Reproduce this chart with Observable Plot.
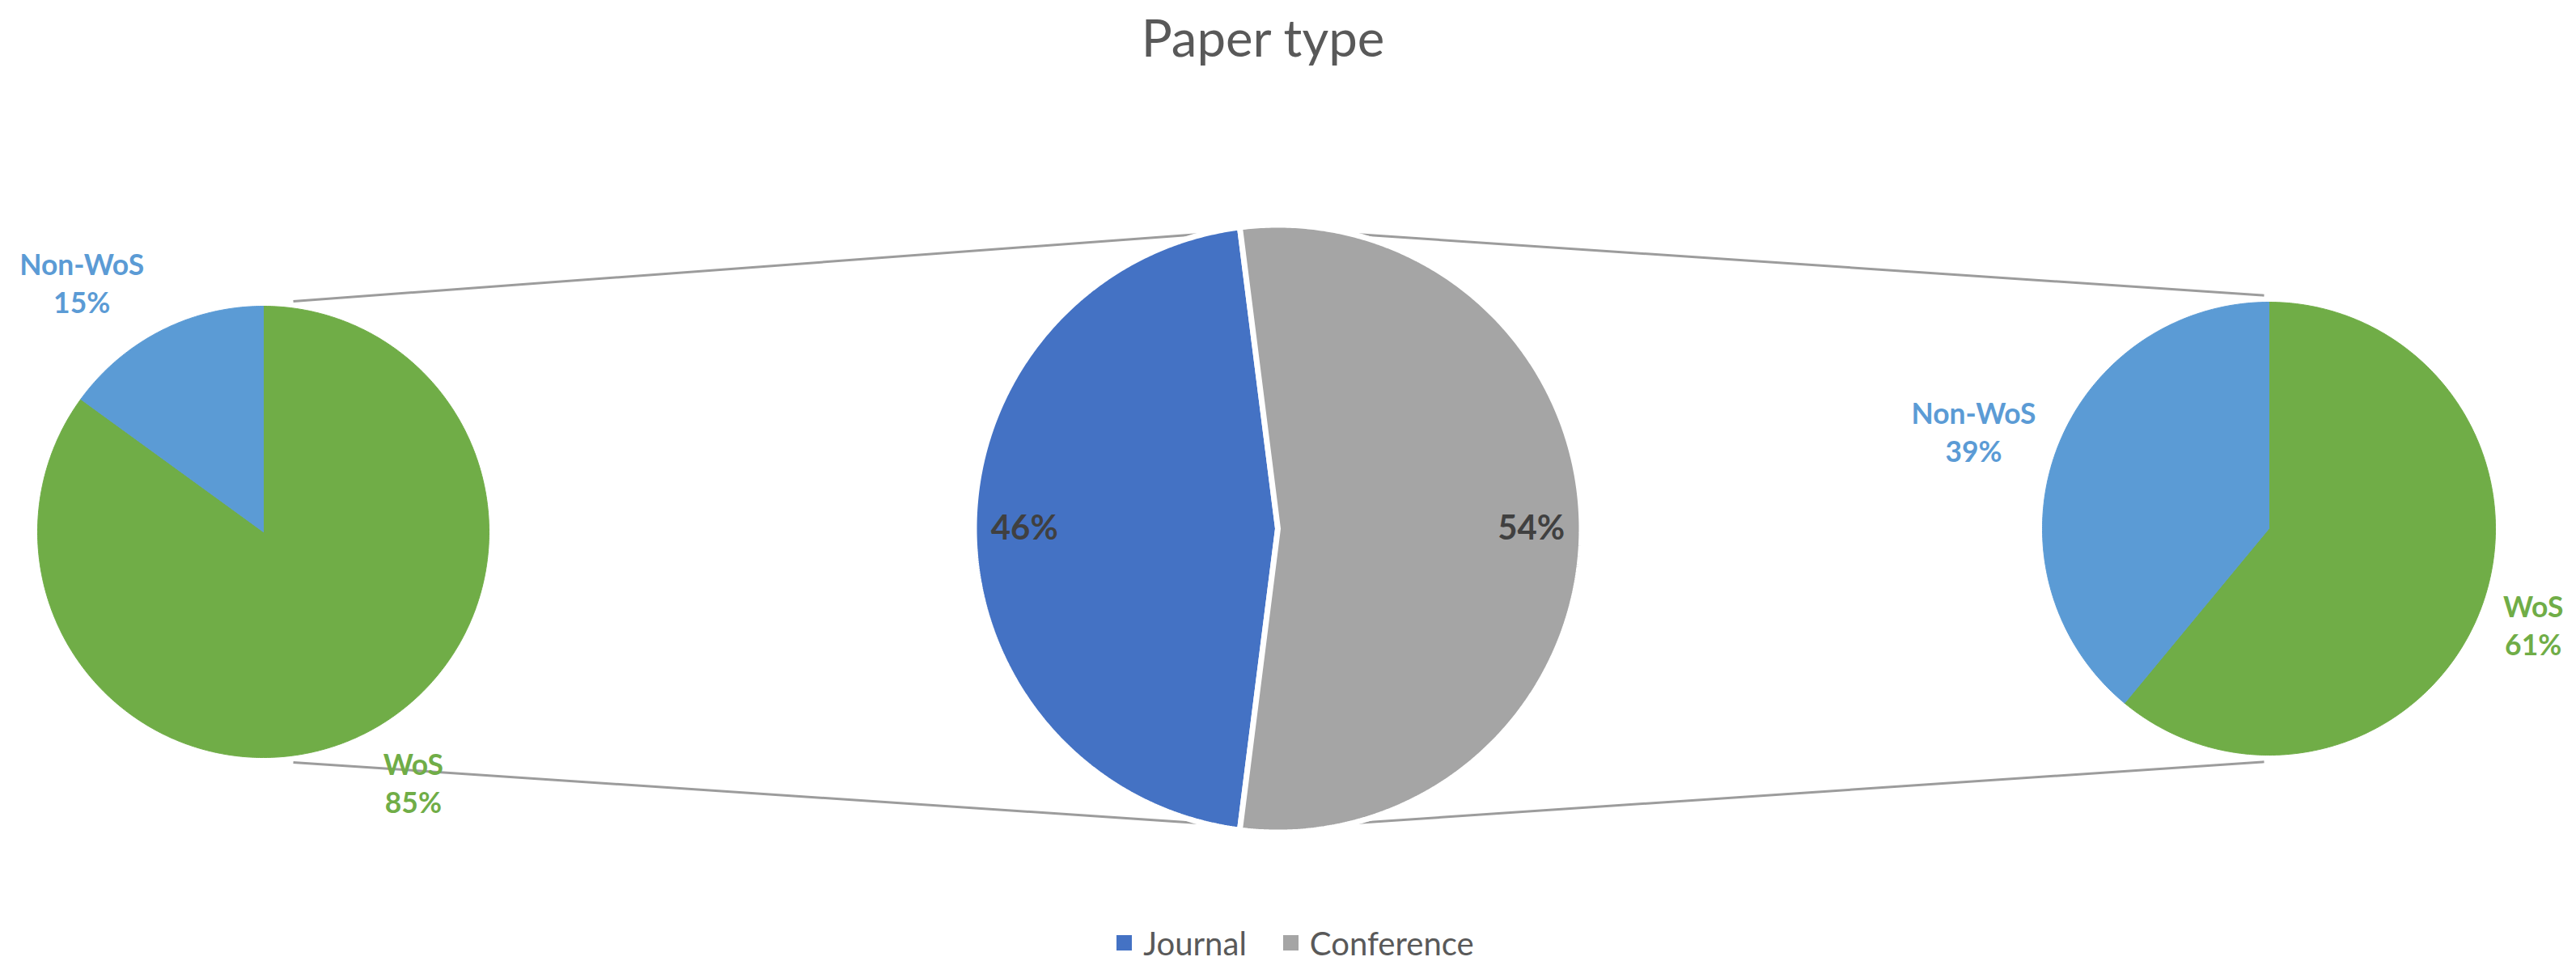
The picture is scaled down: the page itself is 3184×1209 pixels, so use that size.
<!DOCTYPE html>
<html>
<head>
<meta charset="utf-8">
<script src="https://cdn.jsdelivr.net/npm/d3@7"></script>
<script src="https://cdn.jsdelivr.net/npm/@observablehq/plot@0.6"></script>
<style>
html, body { margin: 0; padding: 0; background: #fff; overflow: hidden; }
#page { width: 3184px; height: 1209px; overflow: hidden; position: relative; background: #fff; }
#title { height: 100px; box-sizing: border-box; text-align: center; font-family: Lato, "Open Sans", sans-serif; color: #595959; line-height: 1; white-space: nowrap; }
#chart svg { display: block; }
#legend { height: 109px; box-sizing: border-box; display: flex; justify-content: center; }
.lg-swatches-wrap { margin: 0 !important; }
.lg-swatch { margin-right: 45px !important; }
.lg-swatch:last-child { margin-right: 0 !important; }
.lg-swatch > svg { margin-right: 14px !important; }
</style>
</head>
<body>
<div id="page">
  <div id="title"></div>
  <div id="chart"></div>
  <div id="legend"></div>
</div>
<script>
// ---------------- data ----------------
const titleText = "Paper type";
const paperTypes = ["Journal", "Conference"];
const paperShares = [46, 54];
const indexClasses = ["WoS", "Non-WoS"];
const journalIndexShares = [85, 15];      // left pie (Journal breakdown)
const conferenceIndexShares = [61, 39];   // right pie (Conference breakdown)

// ---------------- styles / layout ----------------
const W = 3184, H = 1000, TOP = 100;
const FAMILY = "Lato, 'Open Sans', sans-serif";
const colors = { Journal: "#4472C4", Conference: "#A5A5A5", WoS: "#70AD47", "Non-WoS": "#5B9BD5" };

const ctx = document.createElement("canvas").getContext("2d");
function fitSize(text, weight, targetWidth) {
  ctx.font = `${weight} 100px ${FAMILY}`;
  return 100 * targetWidth / ctx.measureText(text).width;
}
const titleSize = fitSize(titleText, 400, 302);
const legendSize = fitSize("Conference", 400, 203);
const sideSize = fitSize("Non-WoS", 700, 154);
const midSize = fitSize("46%", 700, 83);

// pie layout: centre, radius, rotation (deg clockwise from 12 o'clock)
const pies = [
  { id: "journal", cats: indexClasses, values: journalIndexShares, cx: 325, cy: 657 - TOP, r: 279, start: 0,
    label: { k: [1.29, 1.368], shift: [-4, -9] } },
  { id: "paper", cats: paperTypes, values: paperShares, cx: 1579, cy: 653 - TOP, r: 372,
    start: 270 - 180 * paperShares[0] / d3.sum(paperShares),
    label: { k: [0.842, 0.842], shift: [0, 0] } },
  { id: "conference", cats: indexClasses, values: conferenceIndexShares, cx: 2804, cy: 653 - TOP, r: 280, start: 0,
    label: { k: [1.24, 1.373], shift: [0, -1.5] } }
];
const rad = Math.PI / 180;
const polar = (p, angle, dist) => ({ x: p.cx + dist * Math.sin(angle * rad), y: p.cy - dist * Math.cos(angle * rad) });

// build slice polygons and labels from the data
const slicePts = [];
const labels = [];
for (const p of pies) {
  const total = d3.sum(p.values);
  let a = p.start;
  p.values.forEach((v, i) => {
    const span = 360 * v / total;
    const a0 = a, a1 = a + span;
    a = a1;
    const cat = p.cats[i];
    const key = p.id + "-" + cat;
    const rr = p.id === "paper" ? p.r + 3.5 : p.r;
    const pts = [{ x: p.cx, y: p.cy }];
    const n = Math.ceil(span / 0.5);
    for (let j = 0; j <= n; j++) pts.push(polar(p, a0 + span * j / n, rr));
    pts.push({ x: p.cx, y: p.cy });
    pts.forEach(pt => slicePts.push({ ...pt, key, pie: p.id, color: colors[cat] }));
    const mid = (a0 + a1) / 2 + p.label.shift[i];
    const pos = polar(p, mid, p.r * p.label.k[i]);
    labels.push({
      ...pos, pie: p.id, color: colors[cat],
      text: p.id === "paper" ? `${v}%` : `${cat}\n${v}%`
    });
  });
}

// connector lines between the central pie and the two breakdown pies
const [pL, pM, pR] = pies;
const connectorSpec = [
  { from: pL, a1: 7.4, to: pM, a2: 347.7 },
  { from: pL, a1: 172.6, to: pM, a2: 192.3 },
  { from: pR, a1: 358.8, to: pM, a2: 12.5 },
  { from: pR, a1: 181.2, to: pM, a2: 167.5 }
];
const connectors = connectorSpec.map(c => {
  const s = polar(c.from, c.a1, c.from.r * 1.03);
  const e = polar(c.to, c.a2, c.to.r * 1.005);
  return { x1: s.x, y1: s.y, x2: e.x, y2: e.y };
});

const chart = Plot.plot({
  width: W, height: H, margin: 0,
  x: { domain: [0, W], range: [0, W], axis: null },
  y: { domain: [0, H], range: [0, H], axis: null },
  color: { type: "identity" },
  style: { background: "#fff", overflow: "visible" },
  marks: [
    Plot.link(connectors, { x1: "x1", y1: "y1", x2: "x2", y2: "y2", stroke: "#9c9c9c", strokeWidth: 3 }),
    Plot.line(slicePts.filter(d => d.pie !== "paper"), {
      x: "x", y: "y", z: "key", fill: d => d.color, stroke: d => d.color, strokeWidth: 1
    }),
    Plot.line(slicePts.filter(d => d.pie === "paper"), {
      x: "x", y: "y", z: "key", fill: d => d.color, stroke: "#ffffff", strokeWidth: 7, strokeLinejoin: "miter"
    }),
    Plot.text(labels.filter(d => d.pie !== "paper"), {
      x: "x", y: "y", text: "text", fill: d => d.color, fontFamily: FAMILY, fontWeight: 700,
      fontSize: sideSize, lineHeight: 47 / sideSize, lineAnchor: "middle", textAnchor: "middle"
    }),
    Plot.text(labels.filter(d => d.pie === "paper"), {
      x: "x", y: "y", text: "text", fill: "#404040", fontFamily: FAMILY, fontWeight: 700,
      fontSize: midSize, lineAnchor: "middle", textAnchor: "middle"
    })
  ]
});
document.getElementById("chart").appendChild(chart);

// title
const title = document.getElementById("title");
title.textContent = titleText;
title.style.fontSize = titleSize + "px";
title.style.fontWeight = 400;
title.style.paddingTop = (70 - 0.887 * titleSize) + "px";
title.style.paddingRight = "62px";

// legend
const legend = Plot.legend({
  color: { domain: paperTypes, range: paperTypes.map(c => colors[c]) },
  legend: "swatches", swatchSize: 19, className: "lg",
  style: { fontSize: legendSize + "px", fontFamily: FAMILY, color: "#595959" }
});
const lg = document.getElementById("legend");
lg.style.paddingTop = (62 - 0.987 * legendSize) + "px";
lg.style.paddingLeft = "18px";
lg.appendChild(legend);
</script>
</body>
</html>
